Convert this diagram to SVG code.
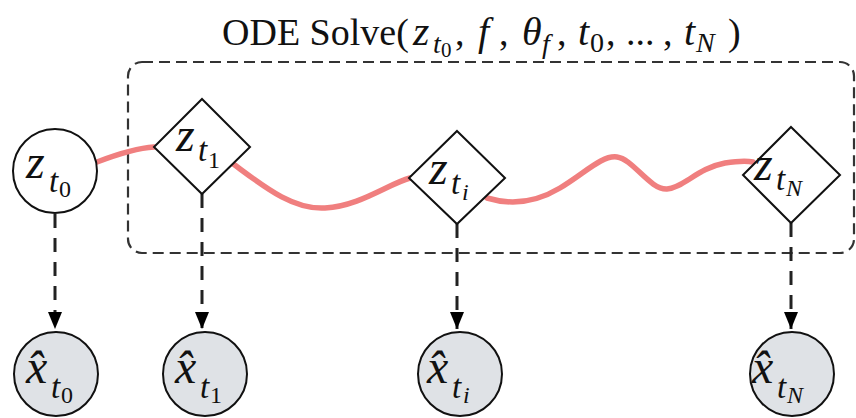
<svg xmlns="http://www.w3.org/2000/svg" width="856" height="418" viewBox="0 0 856 418">
  <defs>
    <marker id="arr" markerWidth="18" markerHeight="16" refX="17" refY="8" orient="auto" markerUnits="userSpaceOnUse" viewBox="0 0 18 16">
      <path d="M0,1 L17,8 L0,15 Z" fill="#000"/>
    </marker>
    <style>
      text { font-family: "Liberation Serif", "DejaVu Serif", serif; fill: #111; }
      .m { font-style: italic; }
      .up { font-style: normal; }
      .node { fill: #fff; stroke: #111; stroke-width: 2; }
      .obs { fill: #dfe2e6; stroke: #111; stroke-width: 2; }
      .dash { fill: none; stroke: #222; stroke-width: 3; stroke-dasharray: 14 10; }
      .box { fill: none; stroke: #333; stroke-width: 2.2; stroke-dasharray: 11 6; }
      .ode { fill: none; stroke: #f07f7f; stroke-width: 5.5; stroke-linecap: round; stroke-linejoin: round; }
      .big { font-size: 48px; }
      .sub { font-size: 33px; }
      .ss { font-size: 24px; }
    </style>
  </defs>

  <g id="title">
    <text font-family="Liberation Serif, serif" font-size="38" y="45"><tspan x="222">ODE Solve(</tspan><tspan class="m" x="413" font-size="42">z</tspan><tspan class="m" x="433" y="53" font-size="28">t</tspan><tspan x="441" y="57" font-size="21">0</tspan><tspan x="455" y="45">,</tspan><tspan class="m" x="478" font-size="40">f</tspan><tspan x="499">,</tspan><tspan class="m" x="522" font-size="40">θ</tspan><tspan class="m" x="542" y="53" font-size="28">f</tspan><tspan x="557" y="45">,</tspan><tspan class="m" x="578" font-size="40">t</tspan><tspan x="590" y="52" font-size="28">0</tspan><tspan x="606" y="45">,</tspan><tspan x="626">...</tspan><tspan x="663">,</tspan><tspan class="m" x="684" font-size="40">t</tspan><tspan class="m" x="696" y="52" font-size="28">N</tspan><tspan x="728" y="45">)</tspan></text>
  </g>

  <g id="ode-box">
    <rect class="box" x="128" y="62" width="726" height="191" rx="14" ry="14"/>
  </g>

  <g id="connectors">
    <path class="ode" d="M97,162 C118,154 136,148 154,147"/>
    <path class="ode" d="M232,163 C262,185 292,210 325,208 C360,206 388,184 410,178"/>
    <path class="ode" d="M487,198 C510,205 535,203 560,188 C585,173 602,155 617,157 C633,159 650,190 667,189 C683,188 698,168 725,163 C738,161 748,161 753,162"/>
    <line class="dash" x1="55" y1="214" x2="55" y2="329" marker-end="url(#arr)"/>
    <line class="dash" x1="202" y1="194" x2="202" y2="329" marker-end="url(#arr)"/>
    <line class="dash" x1="457" y1="224" x2="457" y2="329" marker-end="url(#arr)"/>
    <line class="dash" x1="791" y1="223" x2="791" y2="329" marker-end="url(#arr)"/>
  </g>

  <g id="z_t0">
    <circle class="node" cx="55" cy="171" r="42"/>
    <text class="m"><tspan class="big" x="26" y="178">z</tspan><tspan class="sub" x="49" y="192">t</tspan><tspan class="up ss" x="59" y="197">0</tspan></text>
  </g>

  <g id="z_t1">
    <polygon class="node" points="202,99 250,147 202,194 154,147"/>
    <text class="m"><tspan class="big" x="176" y="151">z</tspan><tspan class="sub" x="198" y="161">t</tspan><tspan class="up ss" x="208" y="168">1</tspan></text>
  </g>

  <g id="z_ti">
    <polygon class="node" points="457,131 505,178 457,224 409,178"/>
    <text class="m"><tspan class="big" x="429" y="184">z</tspan><tspan class="sub" x="451" y="194">t</tspan><tspan class="ss" x="462" y="200">i</tspan></text>
  </g>

  <g id="z_tN">
    <polygon class="node" points="791,127 840,175 791,223 743,175"/>
    <text class="m"><tspan class="big" x="754" y="180">z</tspan><tspan class="sub" x="776" y="190">t</tspan><tspan class="ss" x="786" y="196">N</tspan></text>
  </g>

  <g id="x_t0">
    <circle class="obs" cx="56" cy="374" r="42"/>
    <text class="m"><tspan class="big" x="26" y="383">x̂</tspan><tspan class="sub" x="51" y="398">t</tspan><tspan class="up ss" x="61" y="403">0</tspan></text>
  </g>

  <g id="x_t1">
    <circle class="obs" cx="205" cy="374" r="42"/>
    <text class="m"><tspan class="big" x="175" y="383">x̂</tspan><tspan class="sub" x="200" y="398">t</tspan><tspan class="up ss" x="210" y="403">1</tspan></text>
  </g>

  <g id="x_ti">
    <circle class="obs" cx="460" cy="374" r="42"/>
    <text class="m"><tspan class="big" x="427" y="383">x̂</tspan><tspan class="sub" x="452" y="398">t</tspan><tspan class="ss" x="463" y="403">i</tspan></text>
  </g>

  <g id="x_tN">
    <circle class="obs" cx="792" cy="374" r="42"/>
    <text class="m"><tspan class="big" x="752" y="383">x̂</tspan><tspan class="sub" x="777" y="398">t</tspan><tspan class="ss" x="787" y="403">N</tspan></text>
  </g>
</svg>
